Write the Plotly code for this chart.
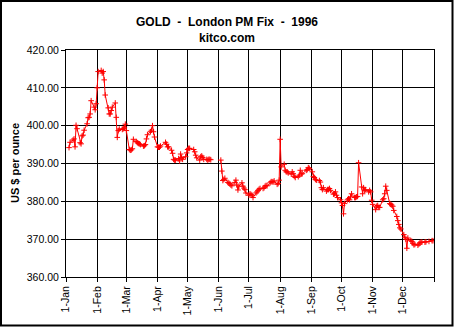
import plotly.graph_objects as go

dates = [
    "1996-01-04", "1996-01-05", "1996-01-08", "1996-01-09", "1996-01-10", "1996-01-11", "1996-01-12",
    "1996-01-15", "1996-01-16", "1996-01-17", "1996-01-18", "1996-01-19",
    "1996-01-22", "1996-01-23", "1996-01-24", "1996-01-25", "1996-01-26",
    "1996-01-29", "1996-01-30", "1996-01-31", "1996-02-01", "1996-02-02",
    "1996-02-05", "1996-02-06", "1996-02-07", "1996-02-08", "1996-02-09",
    "1996-02-12", "1996-02-13", "1996-02-14", "1996-02-15", "1996-02-16",
    "1996-02-19", "1996-02-20", "1996-02-21", "1996-02-22", "1996-02-23",
    "1996-02-26", "1996-02-27", "1996-02-28", "1996-02-29", "1996-03-01",
    "1996-03-04", "1996-03-05", "1996-03-06", "1996-03-07", "1996-03-08",
    "1996-03-11", "1996-03-12", "1996-03-13", "1996-03-14", "1996-03-15",
    "1996-03-18", "1996-03-19", "1996-03-20", "1996-03-21", "1996-03-22",
    "1996-03-25", "1996-03-26", "1996-03-27", "1996-03-28", "1996-03-29",
    "1996-04-01", "1996-04-02", "1996-04-03", "1996-04-04",
    "1996-04-09", "1996-04-10", "1996-04-11", "1996-04-12",
    "1996-04-15", "1996-04-16", "1996-04-17", "1996-04-18", "1996-04-19",
    "1996-04-22", "1996-04-23", "1996-04-24", "1996-04-25", "1996-04-26",
    "1996-04-29", "1996-04-30", "1996-05-01", "1996-05-02", "1996-05-03",
    "1996-05-07", "1996-05-08", "1996-05-09", "1996-05-10",
    "1996-05-13", "1996-05-14", "1996-05-15", "1996-05-16", "1996-05-17",
    "1996-05-20", "1996-05-21", "1996-05-22", "1996-05-23", "1996-05-24",
    "1996-05-29",
    "1996-06-03", "1996-06-04", "1996-06-05", "1996-06-06", "1996-06-07",
    "1996-06-10", "1996-06-11", "1996-06-12", "1996-06-13", "1996-06-14",
    "1996-06-17", "1996-06-18", "1996-06-19", "1996-06-20", "1996-06-21",
    "1996-06-24", "1996-06-25", "1996-06-26", "1996-06-27", "1996-06-28",
    "1996-07-01", "1996-07-02", "1996-07-03", "1996-07-04", "1996-07-05",
    "1996-07-08", "1996-07-09", "1996-07-10", "1996-07-11", "1996-07-12",
    "1996-07-15", "1996-07-16", "1996-07-17", "1996-07-18", "1996-07-19",
    "1996-07-22", "1996-07-23", "1996-07-24", "1996-07-25", "1996-07-26",
    "1996-07-29", "1996-07-30", "1996-07-31", "1996-08-01", "1996-08-02",
    "1996-08-05", "1996-08-06", "1996-08-07", "1996-08-08", "1996-08-09",
    "1996-08-12", "1996-08-13", "1996-08-14", "1996-08-15", "1996-08-16",
    "1996-08-19", "1996-08-20", "1996-08-21", "1996-08-22", "1996-08-23",
    "1996-08-27", "1996-08-28", "1996-08-29", "1996-08-30",
    "1996-09-02", "1996-09-03", "1996-09-04", "1996-09-05", "1996-09-06",
    "1996-09-09", "1996-09-10", "1996-09-11", "1996-09-12", "1996-09-13",
    "1996-09-16", "1996-09-17", "1996-09-18", "1996-09-19", "1996-09-20",
    "1996-09-23", "1996-09-24", "1996-09-25", "1996-09-26", "1996-09-27",
    "1996-09-30", "1996-10-01", "1996-10-02", "1996-10-03", "1996-10-04",
    "1996-10-07", "1996-10-08", "1996-10-09", "1996-10-10", "1996-10-11",
    "1996-10-14", "1996-10-15", "1996-10-16", "1996-10-17", "1996-10-18",
    "1996-10-21", "1996-10-22", "1996-10-23", "1996-10-24", "1996-10-25",
    "1996-10-28", "1996-10-29", "1996-10-30", "1996-10-31", "1996-11-01",
    "1996-11-04", "1996-11-05", "1996-11-06", "1996-11-07", "1996-11-08",
    "1996-11-11", "1996-11-12", "1996-11-13", "1996-11-14", "1996-11-15",
    "1996-11-18", "1996-11-19", "1996-11-20", "1996-11-21", "1996-11-22",
    "1996-11-25", "1996-11-26", "1996-11-27", "1996-11-28", "1996-11-29",
    "1996-12-02", "1996-12-03", "1996-12-04", "1996-12-05", "1996-12-06",
    "1996-12-09", "1996-12-10", "1996-12-11", "1996-12-12", "1996-12-13",
    "1996-12-16", "1996-12-17", "1996-12-18", "1996-12-19", "1996-12-20",
    "1996-12-23", "1996-12-24", "1996-12-27", "1996-12-30", "1996-12-31",
]

prices = [
    394.2, 395.6, 396.2, 396.5, 394.4, 400.1, 399.2,
    395.5, 395.2, 397.3, 397.5, 398.8,
    400.5, 402.1, 402.2, 403.1, 406.6,
    404.9, 404.2, 405.8, 410.0, 414.3,
    414.6, 413.9, 414.3, 412.1, 408.1,
    404.7, 403.1, 403.1, 404.0, 404.9,
    406.0, 402.2, 396.9, 398.7, 399.1,
    399.0, 399.2, 399.6, 400.4, 398.7,
    393.7, 393.5, 393.6, 393.9, 396.4,
    395.8, 395.5, 395.3, 395.2, 395.0,
    394.6, 394.7, 395.0, 396.5, 397.6,
    398.4, 398.8, 400.0, 398.4, 397.0,
    394.4, 394.3, 394.3, 394.6,
    395.6, 395.1, 394.4, 394.4,
    393.5, 392.7, 391.1, 390.9, 390.9,
    391.3, 390.7, 392.5, 391.6, 391.1,
    391.8, 392.8, 393.7, 394.0, 394.0,
    393.7, 393.1, 392.2, 391.5,
    390.9, 391.8, 392.0, 391.6, 391.1,
    391.1, 390.9, 391.1, 391.1, 391.0,
    None,
    390.9, 388.0, 385.5, 385.8, 386.1,
    385.0, 384.8, 384.6, 384.3, 384.1,
    385.0, 385.6, 384.3, 383.0, 384.0,
    384.9, 384.0, 383.5, 383.1, 382.2,
    381.6, 382.0, 381.8, 381.6, 381.0,
    382.2, 382.5, 382.9, 383.2, 383.4,
    383.4, 383.6, 384.0, 384.2, 384.1,
    384.9, 385.2, 385.2, 385.1, 385.4,
    384.5, 384.7, 385.6, 396.4, 389.1,
    389.8, 388.2, 387.8, 387.8, 387.5,
    387.2, 387.8, 387.3, 386.6, 386.3,
    386.5, 386.9, 388.2, 387.2, 387.3,
    388.2, 388.4, 388.9, 388.7,
    387.8, 386.6, 386.3, 385.8, 385.6,
    385.5, 385.1, 383.6, 383.1, 383.6,
    382.7, 383.1, 383.1, 383.4, 382.9,
    381.9, 382.0, 382.5, 381.6, 381.0,
    380.4, 379.6, 378.9, 376.7, 379.4,
    380.4, 380.7, 380.4, 381.2, 382.0,
    381.0, 381.0, 381.2, 381.3, 390.2,
    383.8, 382.0, 383.6, 382.9, 383.1,
    382.5, 382.9, 382.5, 380.3, 379.2,
    377.8, 378.7, 378.9, 378.4, 378.4,
    380.4, 380.7, 382.0, 384.0, 382.9,
    379.4, 379.2, 379.0, 378.7, 377.6,
    376.0, 374.9, 373.9, 373.0, 372.7,
    371.2, 370.5, 370.0, 367.6, 370.3,
    369.6, 369.4, 368.9, 368.5, 368.6,
    368.4, 368.7, 369.0, 369.2, 369.2,
    369.2, 369.3, 369.4, 369.6, 369.6,
]

month_ticks = ["1996-01-01", "1996-02-01", "1996-03-01", "1996-04-01", "1996-05-01",
               "1996-06-01", "1996-07-01", "1996-08-01", "1996-09-01", "1996-10-01",
               "1996-11-01", "1996-12-01", "1997-01-01"]
month_labels = ["1-Jan", "1-Feb", "1-Mar", "1-Apr", "1-May", "1-Jun", "1-Jul",
                "1-Aug", "1-Sep", "1-Oct", "1-Nov", "1-Dec", ""]

title_line1 = "GOLD  -  London PM Fix  -  1996"
title_line2 = "kitco.com"
y_title = "US $ per ounce"

FONT = "Arial, 'Liberation Sans', sans-serif"

fig = go.Figure()
fig.add_trace(go.Scatter(
    x=dates, y=prices, mode="lines+markers", connectgaps=False,
    line=dict(color="#FF0000", width=1),
    marker=dict(symbol="cross-thin", size=4, color="#FF0000",
                line=dict(color="#FF0000", width=1)),
    showlegend=False, hoverinfo="x+y",
))

L, R, T, B = 66, 21, 50, 51
W, H = 455 - L - R, 328 - T - B

fig.update_layout(
    width=455, height=328,
    margin=dict(l=L, r=R, t=T, b=B, pad=0),
    paper_bgcolor="white", plot_bgcolor="white",
    font=dict(family=FONT, size=10.5, color="black"),
    xaxis=dict(
        type="date", range=["1996-01-01", "1997-01-01"],
        tickmode="array", tickvals=month_ticks, ticktext=month_labels,
        tickangle=-90, ticks="outside", ticklen=4, tickcolor="black", tickwidth=1,
        showgrid=True, gridcolor="black", gridwidth=1,
        showline=True, linecolor="black", linewidth=1, mirror=True,
        zeroline=False, tickfont=dict(family=FONT, size=10.5, color="black"),
    ),
    yaxis=dict(
        range=[360, 420], dtick=10, tick0=360, tickformat=".2f",
        ticks="outside", ticklen=4, tickcolor="black", tickwidth=1,
        showgrid=True, gridcolor="black", gridwidth=1,
        showline=True, linecolor="black", linewidth=1, mirror=True,
        zeroline=False, tickfont=dict(family=FONT, size=10.5, color="black"),
    ),
)

def px_x(p):
    return (p - L) / W

def px_y(p):
    return (328 - B - p) / H

fig.add_annotation(text="<b>" + title_line1 + "</b>", xref="paper", yref="paper",
                   x=px_x(227), y=px_y(21.7), xanchor="center", yanchor="middle",
                   showarrow=False, font=dict(family=FONT, size=12, color="black"))
fig.add_annotation(text="<b>" + title_line2 + "</b>", xref="paper", yref="paper",
                   x=px_x(227), y=px_y(37.7), xanchor="center", yanchor="middle",
                   showarrow=False, font=dict(family=FONT, size=12, color="black"))
fig.add_annotation(text="<b>" + y_title + "</b>", xref="paper", yref="paper",
                   x=px_x(15), y=px_y(163), xanchor="center", yanchor="middle",
                   textangle=-90, showarrow=False,
                   font=dict(family=FONT, size=11, color="black"))

fig.add_shape(type="rect", xref="paper", yref="paper",
              x0=px_x(1), x1=px_x(452.5), y0=px_y(325.5), y1=px_y(1),
              line=dict(color="black", width=2), fillcolor="rgba(0,0,0,0)", layer="above")

fig.write_html("out.html")
